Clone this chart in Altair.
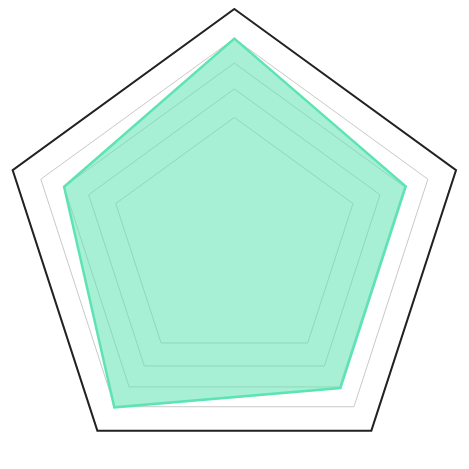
import math
import altair as alt
import pandas as pd

# Radar data (values on a 0-100 radial scale, outer ring = 100)
axes = ["A", "B", "C", "D", "E"]
values = [87.3, 77.3, 77.4, 87.6, 76.8]
grid_levels = [53.5, 65.7, 76.8, 87.3]
outer_level = 100

W = H = 453
k = 233.1 / outer_level          # px per unit
cx = 226.35                      # center in view px (from left)
cy = 234.1                       # center in view px (from top)
xd = [-cx / k, (W - cx) / k]
yd = [-(H - cy) / k, cy / k]


def polar(r, i):
    a = math.radians(72 * i)
    return r * math.sin(a), r * math.cos(a)


rows = []
for i, (ax, v) in enumerate(zip(axes, values)):
    x, y = polar(v, i)
    rows.append({"axis": ax, "idx": i, "x": x, "y": y})
data_df = pd.DataFrame(rows)

grow = []
for lvl in grid_levels:
    for i, ax in enumerate(axes):
        x, y = polar(lvl, i)
        grow.append({"level": lvl, "idx": i, "x": x, "y": y})
grid_df = pd.DataFrame(grow)

orow = []
for i, ax in enumerate(axes):
    x, y = polar(outer_level, i)
    orow.append({"idx": i, "x": x, "y": y})
outer_df = pd.DataFrame(orow)

X = alt.X("x:Q", scale=alt.Scale(domain=xd, nice=False, zero=False), axis=None)
Y = alt.Y("y:Q", scale=alt.Scale(domain=yd, nice=False, zero=False), axis=None)

grid = alt.Chart(grid_df).mark_line(
    interpolate="linear-closed", color="#c9c9c9", strokeWidth=1
).encode(x=X, y=Y, detail="level:N", order="idx:Q")

outer = alt.Chart(outer_df).mark_line(
    interpolate="linear-closed", color="#222222", strokeWidth=2
).encode(x=X, y=Y, order="idx:Q")

poly = alt.Chart(data_df).mark_line(
    interpolate="linear-closed",
    color="#5ee4b4",
    fill="#5ee4b4",
    fillOpacity=0.55,
    strokeWidth=2.5,
).encode(x=X, y=Y, order="idx:Q")

chart = alt.layer(grid, outer, poly).properties(
    width=W, height=H, autosize=alt.AutoSizeParams(type="none"), padding=0
).configure_view(stroke=None)

chart.save("out.html", embed_options={"renderer": "svg", "actions": False})
